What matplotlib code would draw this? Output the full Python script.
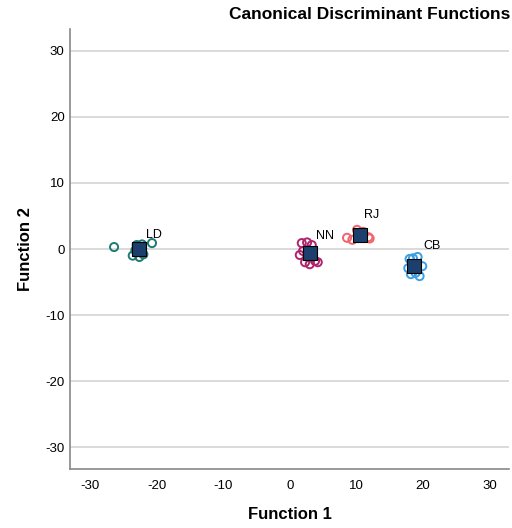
import matplotlib
matplotlib.use("Agg")
import matplotlib.pyplot as plt

plt.rcParams['font.family'] = ['Liberation Sans', 'DejaVu Sans']
plt.rcParams['axes.unicode_minus'] = False

groups = ["LD", "NN", "RJ", "CB"]
colors = ["#1e7b74", "#b0236d", "#f2636b", "#3b9fe3"]

ld_x = [-26.4, -20.7, -23.0, -22.2, -23.6, -22.6, -22.0, -23.2]
ld_y = [0.3, 0.9, 0.6, 0.7, -1.0, -1.2, -0.8, -0.2]
nn_x = [1.8, 2.3, 4.2, 3.3, 3.0, 1.5, 2.6, 3.8, 2.0]
nn_y = [0.9, -2.0, -2.0, 0.6, -2.3, -0.9, 1.0, -1.8, -0.3]
rj_x = [8.6, 9.4, 11.8, 10.1, 11.0, 12.0]
rj_y = [1.7, 1.4, 1.8, 2.9, 2.6, 1.6]
cb_x = [18.0, 19.2, 18.2, 19.5, 17.8, 19.9, 18.9, 18.5]
cb_y = [-1.5, -1.2, -3.8, -4.1, -2.9, -2.6, -3.6, -1.4]

cent_x = [-22.6, 3.0, 10.6, 18.7]
cent_y = [0.0, -0.6, 2.1, -2.6]
label_x = [-21.6, 4.0, 11.2, 20.0]
label_y = [1.2, 1.0, 4.2, -0.4]

xticks = [-30, -20, -10, 0, 10, 20, 30]
yticks = [-30, -20, -10, 0, 10, 20, 30]

fig = plt.figure(figsize=(5.12, 5.28), dpi=100)
ax = fig.add_axes([0.137, 0.1117, 0.858, 0.8333])

pts = [(ld_x, ld_y), (nn_x, nn_y), (rj_x, rj_y), (cb_x, cb_y)]
for (xs, ys), c in zip(pts, colors):
    ax.scatter(xs, ys, s=34, facecolors='none', edgecolors=c, linewidths=1.4, zorder=3)

ax.scatter(cent_x, cent_y, s=95, marker='s', color='#1d3f6e', edgecolors='black', linewidths=0.8, zorder=4)
for g, lx, ly in zip(groups, label_x, label_y):
    ax.text(lx, ly, g, fontsize=9, ha='left', va='bottom', zorder=5)

ax.set_xlim(-33, 33)
ax.set_ylim(-33.3, 33.3)
ax.set_xticks(xticks)
ax.set_yticks(yticks)
ax.tick_params(length=0, labelsize=9.5)
ax.tick_params(axis='x', pad=8)
ax.tick_params(axis='y', pad=4)
ax.yaxis.grid(True, color='#d4d4d4', linewidth=1.2)
ax.set_axisbelow(True)
for s in ['top', 'right']:
    ax.spines[s].set_visible(False)
for s in ['left', 'bottom']:
    ax.spines[s].set_color('#888888')
    ax.spines[s].set_linewidth(1.2)

ax.set_xlabel("Function 1", fontsize=12, fontweight='bold', labelpad=11)
ax.set_ylabel("Function 2", fontsize=12, fontweight='bold', labelpad=9)
fig.text(0.997, 0.972, "Canonical Discriminant Functions", fontsize=12.5, fontweight='bold', ha='right', va='center')

fig.savefig("out.png", dpi=100)
